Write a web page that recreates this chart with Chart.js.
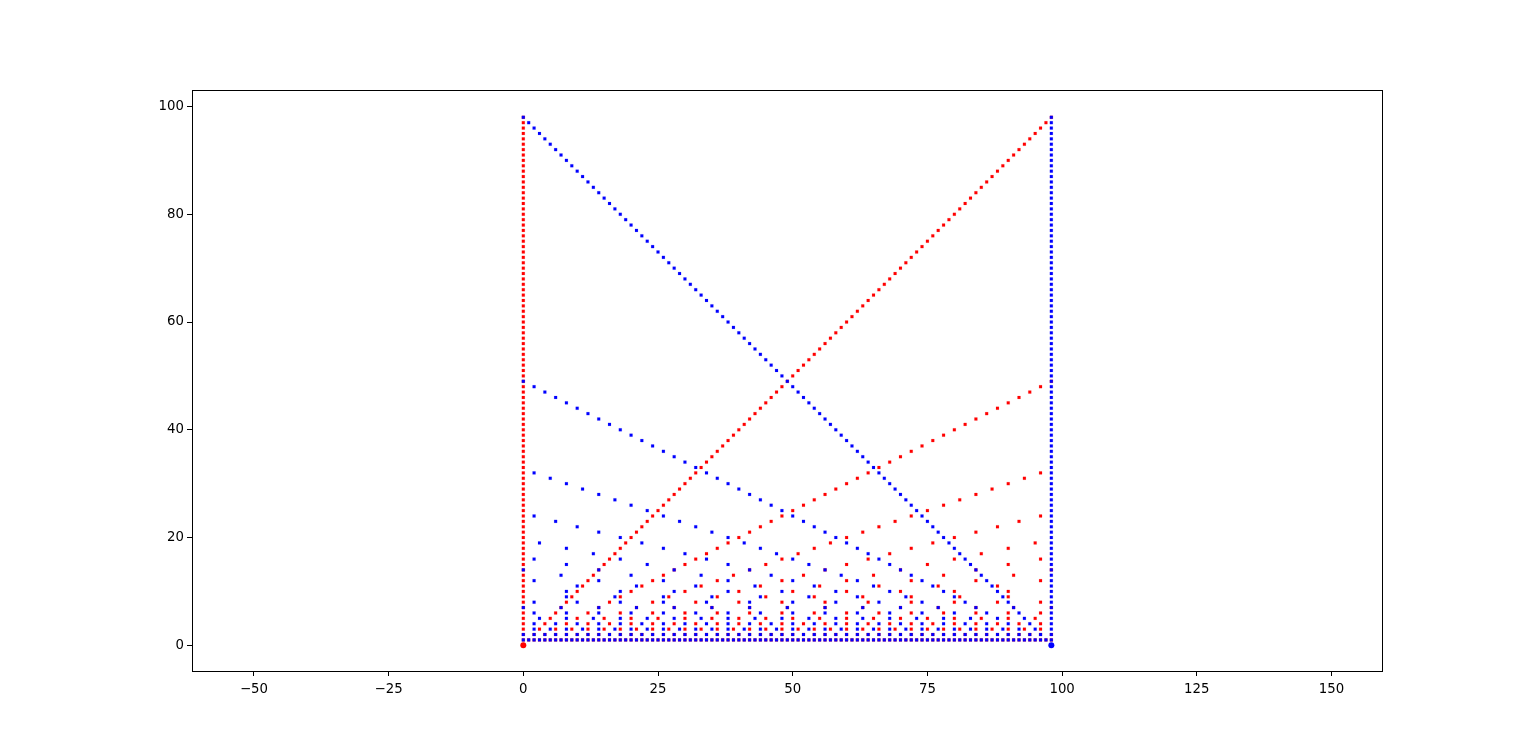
<!DOCTYPE html>
<html>
<head>
<meta charset="utf-8">
<style>
    html, body { margin: 0; padding: 0; background: #fff; }
    canvas { display: block; }
</style>
<script src="https://cdn.jsdelivr.net/npm/chart.js@4/dist/chart.umd.min.js"></script>
</head>
<body>
<canvas id="plot" width="1536" height="754"></canvas>
<script>
    // y values, one list per x position (index = x)
    const redColumns = [
        [1,2,3,4,5,6,7,8,9,10,11,12,13,14,15,16,17,18,19,20,21,22,23,24,25,26,27,28,29,30,31,32,33,34,35,36,37,38,39,40,41,42,43,44,45,46,47,48,49,50,51,52,53,54,55,56,57,58,59,60,61,62,63,64,65,66,67,68,69,70,71,72,73,74,75,76,77,78,79,80,81,82,83,84,85,86,87,88,89,90,91,92,93,94,95,96,97,98],
        [1],[1,2],[1,3],[1,2,4],[1,5],[1,2,3,6],[1,7],[1,2,4,8],[1,3,9],[1,2,5,10],
        [1,11],[1,2,3,4,6,12],[1,13],[1,2,7,14],[1,3,5,15],[1,2,4,8,16],[1,17],[1,2,3,6,9,18],[1,19],[1,2,4,5,10,20],
        [1,3,7,21],[1,2,11,22],[1,23],[1,2,3,4,6,8,12,24],[1,5,25],[1,2,13,26],[1,3,9,27],[1,2,4,7,14,28],[1,29],[1,2,3,5,6,10,15,30],
        [1,31],[1,2,4,8,16,32],[1,3,11,33],[1,2,17,34],[1,5,7,35],[1,2,3,4,6,9,12,18,36],[1,37],[1,2,19,38],[1,3,13,39],[1,2,4,5,8,10,20,40],
        [1,41],[1,2,3,6,7,14,21,42],[1,43],[1,2,4,11,22,44],[1,3,5,9,15,45],[1,2,23,46],[1,47],[1,2,3,4,6,8,12,16,24,48],[1,7,49],[1,2,5,10,25,50],
        [1,3,17,51],[1,2,4,13,26,52],[1,53],[1,2,3,6,9,18,27,54],[1,5,11,55],[1,2,4,7,8,14,28,56],[1,3,19,57],[1,2,29,58],[1,59],[1,2,3,4,5,6,10,12,15,20,30,60],
        [1,61],[1,2,31,62],[1,3,7,9,21,63],[1,2,4,8,16,32,64],[1,5,13,65],[1,2,3,6,11,22,33,66],[1,67],[1,2,4,17,34,68],[1,3,23,69],[1,2,5,7,10,14,35,70],
        [1,71],[1,2,3,4,6,8,9,12,18,24,36,72],[1,73],[1,2,37,74],[1,3,5,15,25,75],[1,2,4,19,38,76],[1,7,11,77],[1,2,3,6,13,26,39,78],[1,79],[1,2,4,5,8,10,16,20,40,80],
        [1,3,9,27,81],[1,2,41,82],[1,83],[1,2,3,4,6,7,12,14,21,28,42,84],[1,5,17,85],[1,2,43,86],[1,3,29,87],[1,2,4,8,11,22,44,88],[1,89],[1,2,3,5,6,9,10,15,18,30,45,90],
        [1,7,13,91],[1,2,4,23,46,92],[1,3,31,93],[1,2,47,94],[1,5,19,95],[1,2,3,4,6,8,12,16,24,32,48,96],[1,97],[1,2,7,14,49,98]
    ];

    const blueColumns = [
        [1,2,7,14,49,98],[1,97],[1,2,3,4,6,8,12,16,24,32,48,96],[1,5,19,95],[1,2,47,94],[1,3,31,93],[1,2,4,23,46,92],[1,7,13,91],
        [1,2,3,5,6,9,10,15,18,30,45,90],[1,89],[1,2,4,8,11,22,44,88],[1,3,29,87],[1,2,43,86],[1,5,17,85],[1,2,3,4,6,7,12,14,21,28,42,84],[1,83],[1,2,41,82],[1,3,9,27,81],
        [1,2,4,5,8,10,16,20,40,80],[1,79],[1,2,3,6,13,26,39,78],[1,7,11,77],[1,2,4,19,38,76],[1,3,5,15,25,75],[1,2,37,74],[1,73],[1,2,3,4,6,8,9,12,18,24,36,72],[1,71],
        [1,2,5,7,10,14,35,70],[1,3,23,69],[1,2,4,17,34,68],[1,67],[1,2,3,6,11,22,33,66],[1,5,13,65],[1,2,4,8,16,32,64],[1,3,7,9,21,63],[1,2,31,62],[1,61],
        [1,2,3,4,5,6,10,12,15,20,30,60],[1,59],[1,2,29,58],[1,3,19,57],[1,2,4,7,8,14,28,56],[1,5,11,55],[1,2,3,6,9,18,27,54],[1,53],[1,2,4,13,26,52],[1,3,17,51],
        [1,2,5,10,25,50],[1,7,49],[1,2,3,4,6,8,12,16,24,48],[1,47],[1,2,23,46],[1,3,5,9,15,45],[1,2,4,11,22,44],[1,43],[1,2,3,6,7,14,21,42],[1,41],
        [1,2,4,5,8,10,20,40],[1,3,13,39],[1,2,19,38],[1,37],[1,2,3,4,6,9,12,18,36],[1,5,7,35],[1,2,17,34],[1,3,11,33],[1,2,4,8,16,32],[1,31],
        [1,2,3,5,6,10,15,30],[1,29],[1,2,4,7,14,28],[1,3,9,27],[1,2,13,26],[1,5,25],[1,2,3,4,6,8,12,24],[1,23],[1,2,11,22],[1,3,7,21],
        [1,2,4,5,10,20],[1,19],[1,2,3,6,9,18],[1,17],[1,2,4,8,16],[1,3,5,15],[1,2,7,14],[1,13],[1,2,3,4,6,12],[1,11],
        [1,2,5,10],[1,3,9],[1,2,4,8],[1,7],[1,2,3,6],[1,5],[1,2,4],[1,3],[1,2],[1],
        [1,2,3,4,5,6,7,8,9,10,11,12,13,14,15,16,17,18,19,20,21,22,23,24,25,26,27,28,29,30,31,32,33,34,35,36,37,38,39,40,41,42,43,44,45,46,47,48,49,50,51,52,53,54,55,56,57,58,59,60,61,62,63,64,65,66,67,68,69,70,71,72,73,74,75,76,77,78,79,80,81,82,83,84,85,86,87,88,89,90,91,92,93,94,95,96,97,98]
    ];

    // the two heavier dots on the zero line
    const redCornerX = [0], redCornerY = [0];
    const blueCornerX = [98], blueCornerY = [0];

    const xTicks = [-50, -25, 0, 25, 50, 75, 100, 125, 150];
    const yTicks = [0, 20, 40, 60, 80, 100];

    function toPoints(columns) {
        const pts = [];
        columns.forEach((ys, x) => ys.forEach(y => pts.push({ x, y })));
        return pts;
    }

    function pairUp(xs, ys) {
        return xs.map((x, i) => ({ x, y: ys[i] }));
    }

    const frame = {
        id: 'frame',
        afterDraw(chart) {
            const a = chart.chartArea, c = chart.ctx;
            c.save();
            c.strokeStyle = '#000';
            c.lineWidth = 1;
            c.strokeRect(Math.round(a.left) + 0.5, Math.round(a.top) - 0.5, Math.round(a.right - a.left), Math.round(a.bottom - a.top) + 1);
            c.restore();
        }
    };

    const tickFont = { family: '"DejaVu Sans"', size: 13.3 };
    const minus = v => (v < 0 ? '\u2212' + Math.abs(v) : String(v));

    const dots = { borderWidth: 1, pointStyle: 'rect', pointRadius: 2.1 };

    // first dataset is painted last in Chart.js, so blue goes on top of red
    new Chart(document.getElementById('plot').getContext('2d'), {
        type: 'scatter',
        data: {
            datasets: [
                { data: toPoints(blueColumns), backgroundColor: '#0000ff', borderColor: 'rgba(0,0,255,0.12)', ...dots },
                { data: pairUp(blueCornerX, blueCornerY), backgroundColor: '#0000ff', borderWidth: 0, pointRadius: 3 },
                { data: toPoints(redColumns), backgroundColor: '#ff0000', borderColor: 'rgba(255,0,0,0.12)', ...dots },
                { data: pairUp(redCornerX, redCornerY), backgroundColor: '#ff0000', borderWidth: 0, pointRadius: 3 }
            ]
        },
        plugins: [frame],
        options: {
            responsive: false,
            animation: false,
            clip: false,
            layout: { padding: { left: 0, top: 91, right: 154, bottom: 0 } },
            plugins: { legend: { display: false }, tooltip: { enabled: false } },
            scales: {
                x: {
                    type: 'linear',
                    min: -61.49,
                    max: 159.37,
                    afterFit: s => { s.height = 83; },
                    afterBuildTicks: s => { s.ticks = xTicks.map(value => ({ value })); },
                    border: { color: '#000', width: 1 },
                    grid: { drawOnChartArea: false, drawTicks: true, tickLength: 5, tickColor: '#000' },
                    ticks: { color: '#000', font: tickFont, padding: 6, maxRotation: 0, autoSkip: false, callback: minus }
                },
                y: {
                    type: 'linear',
                    min: -4.77,
                    max: 102.88,
                    afterFit: s => { s.width = 192; },
                    afterBuildTicks: s => { s.ticks = yTicks.map(value => ({ value })); },
                    border: { color: '#000', width: 1 },
                    grid: { drawOnChartArea: false, drawTicks: true, tickLength: 5, tickColor: '#000' },
                    ticks: { color: '#000', font: tickFont, padding: 3, autoSkip: false, callback: minus }
                }
            }
        }
    });
</script>
</body>
</html>
